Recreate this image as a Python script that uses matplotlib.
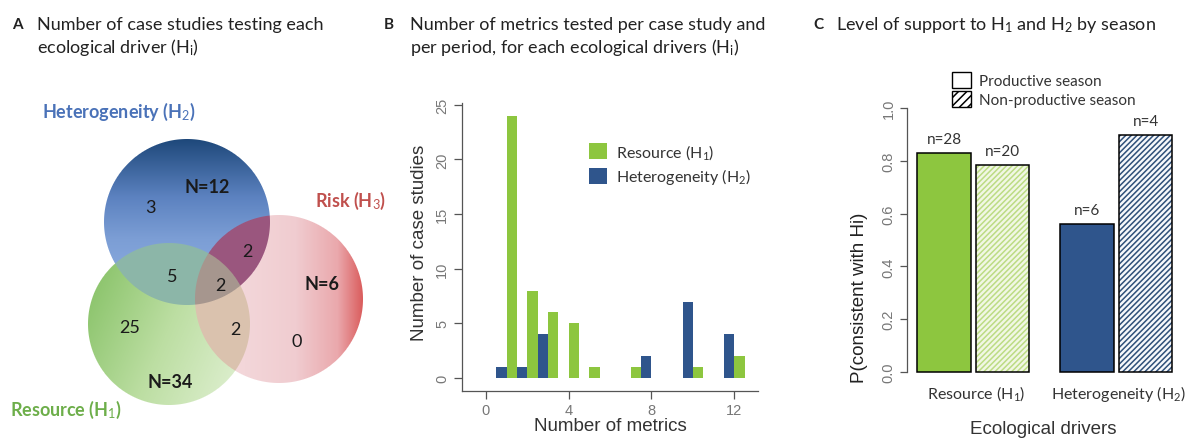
import numpy as np
import matplotlib.pyplot as plt
from matplotlib.patches import Patch

plt.rcParams['font.family'] = ['Lato', 'DejaVu Sans']
plt.rcParams['mathtext.fontset'] = 'custom'
plt.rcParams['mathtext.rm'] = 'Lato'
plt.rcParams['mathtext.it'] = 'Lato:italic'
plt.rcParams['mathtext.bf'] = 'Lato:bold'
plt.rcParams['hatch.linewidth'] = 1.1

# ---- data ----
# panel A: case studies per driver (Venn regions)
venn_totals = {'H1': 34, 'H2': 12, 'H3': 6}
venn_counts = {'H2': 3, 'H1H2': 5, 'H2H3': 2, 'H1H2H3': 2, 'H1': 25, 'H1H3': 2, 'H3': 0}

# panel B: metrics per case study
metrics = np.arange(1, 13)
resource_n = [24, 8, 6, 5, 1, 0, 1, 0, 0, 1, 0, 2]
hetero_n = [1, 1, 4, 0, 0, 0, 0, 2, 0, 7, 0, 4]

# panel C: support by season
drivers = ['Resource (H$_1$)', 'Heterogeneity (H$_2$)']
p_productive = [0.83, 0.56]
p_nonproductive = [0.785, 0.90]
n_productive = [28, 6]
n_nonproductive = [20, 4]

GREEN = '#8dc63f'
BLUE = '#2f558c'
W, H = 1186, 439
fig = plt.figure(figsize=(W / 100, H / 100), dpi=100)


def px_axes(left, top, right, bottom):
    return fig.add_axes([left / W, 1 - bottom / H, (right - left) / W, (bottom - top) / H])


def ftxt(x, y, s, **kw):
    fig.text(x / W, 1 - y / H, s, va='center', **kw)


# titles
tkw = dict(fontsize=13, color='#222222')
ftxt(12, 25, 'A', fontweight='bold', fontsize=11, color='#222222')
ftxt(37, 25, 'Number of case studies testing each', **tkw)
ftxt(37, 48, r'ecological driver (H$_\mathrm{i}$)', **tkw)
ftxt(384, 25, 'B', fontweight='bold', fontsize=11, color='#222222')
ftxt(410, 25, 'Number of metrics tested per case study and', **tkw)
ftxt(410, 48, r'per period, for each ecological drivers (H$_\mathrm{i}$)', **tkw)
ftxt(813, 25, 'C', fontweight='bold', fontsize=11, color='#222222')
ftxt(836, 25, 'Level of support to H$_1$ and H$_2$ by season', **tkw)

# ---- panel A: Venn diagram ----
ax_a = px_axes(0, 0, 400, 439)
ax_a.set_xlim(0, 400)
ax_a.set_ylim(439, 0)
ax_a.axis('off')

yy, xx = np.mgrid[0:439, 0:400] + 0.5


def disk(cx, cy, r):
    return np.clip(r - np.hypot(xx - cx, yy - cy) + 0.5, 0, 1)


def ramp(t, stops, cols):
    cols = np.array(cols, dtype=float)
    return np.stack([np.interp(t, stops, cols[:, k]) for k in range(3)], axis=-1)


mb = disk(187, 223, 83)
mg = disk(169, 325, 81)
mr = disk(279, 300, 84)

blue_c = ramp(np.clip((yy - 140) / 166, 0, 1), [0, 0.35, 0.6, 1],
              [(30, 72, 122), (92, 130, 192), (124, 158, 213), (146, 178, 228)])
green_c = ramp(np.clip((xx - 88) / 165 * 0.7 + (yy - 244) / 162 * 0.3, 0, 1), [0, 0.5, 1],
               [(128, 190, 95), (188, 222, 162), (230, 243, 218)])
red_c = ramp(np.clip((xx - 195) / 168, 0, 1), [0, 0.6, 0.85, 1],
             [(246, 224, 226), (240, 204, 208), (234, 168, 172), (218, 92, 92)])
white = np.ones_like(blue_c) * 255

regions = [
    ((1 - mb) * (1 - mg) * (1 - mr), white),
    (mb * (1 - mg) * (1 - mr), blue_c),
    (mg * (1 - mb) * (1 - mr), green_c),
    (mr * (1 - mb) * (1 - mg), red_c),
    (mb * mg * (1 - mr), np.array([140, 182, 168.0])),
    (mb * mr * (1 - mg), np.array([154, 86, 126.0])),
    (mg * mr * (1 - mb), np.array([218, 194, 174.0])),
    (mb * mg * mr, np.array([166, 150, 142.0])),
]
img = sum(w[..., None] * c for w, c in regions)
ax_a.imshow(img / 255, extent=(0, 400, 439, 0), interpolation='nearest', zorder=0)

ax_a.text(119, 112, 'Heterogeneity (H$_2$)', color='#4a72b8', fontsize=13, fontweight='bold',
          ha='center', va='center')
ax_a.text(351, 201, 'Risk (H$_3$)', color='#c0504d', fontsize=13, fontweight='bold',
          ha='center', va='center')
ax_a.text(66, 410, 'Resource (H$_1$)', color='#6dae4a', fontsize=13, fontweight='bold',
          ha='center', va='center')

nkw = dict(fontsize=13, ha='center', va='center', color='#1a1a1a')
ax_a.text(207, 188, 'N=%d' % venn_totals['H2'], fontweight='bold', **nkw)
ax_a.text(322, 285, 'N=%d' % venn_totals['H3'], fontweight='bold', **nkw)
ax_a.text(170, 383, 'N=%d' % venn_totals['H1'], fontweight='bold', **nkw)
ax_a.text(150, 208, venn_counts['H2'], **nkw)
ax_a.text(247, 252, venn_counts['H2H3'], **nkw)
ax_a.text(172, 277, venn_counts['H1H2'], **nkw)
ax_a.text(220, 286, venn_counts['H1H2H3'], **nkw)
ax_a.text(130, 328, venn_counts['H1'], **nkw)
ax_a.text(235, 330, venn_counts['H1H3'], **nkw)
ax_a.text(297, 342, venn_counts['H3'], **nkw)

# ---- panel B: histogram of metrics ----
ax_b = px_axes(461.7, 103.6, 758.3, 391.7)
ax_b.bar(metrics - 0.25, hetero_n, width=0.5, color=BLUE, label='Heterogeneity (H$_2$)')
ax_b.bar(metrics + 0.25, resource_n, width=0.5, color=GREEN, label='Resource (H$_1$)')
ax_b.set_xlim(-1.17, 13.16)
ax_b.set_ylim(-1.16, 25.2)
ax_b.set_xticks([0, 4, 8, 12])
ax_b.set_yticks([0, 5, 10, 15, 20, 25])
for s in ['top', 'right']:
    ax_b.spines[s].set_visible(False)
for s in ['left', 'bottom']:
    ax_b.spines[s].set_color('#555555')
    ax_b.spines[s].set_linewidth(0.9)
ax_b.tick_params(direction='out', length=5.5, width=0.9, color='#555555',
                 labelcolor='#777777', labelsize=10.5)
for lab in ax_b.get_yticklabels():
    lab.set_family('Liberation Sans')
    lab.set_rotation(90)
    lab.set_va('center')
for lab in ax_b.get_xticklabels():
    lab.set_family('Liberation Sans')
ax_b.set_xlabel('Number of metrics', fontsize=13.5, family='Liberation Sans', color='#333333')
ax_b.xaxis.set_label_coords(0.5, (391.7 - 427) / 288.1)
ax_b.xaxis.label.set_va('center')
ax_b.set_ylabel('Number of case studies', fontsize=13.5, family='Liberation Sans', color='#333333')
ax_b.yaxis.set_label_coords((420 - 461.7) / 296.6, (391.7 - 242.5) / 288.1)
ax_b.yaxis.label.set_va('center')
hb, lb = ax_b.get_legend_handles_labels()
ax_b.legend(hb[::-1], lb[::-1], loc='upper left', bbox_to_anchor=(581 / W, 1 - 135 / H),
            bbox_transform=fig.transFigure, frameon=False, fontsize=11.5, borderpad=0,
            handlelength=1.1, handleheight=1.1, handletextpad=0.6, labelspacing=0.35,
            labelcolor='#333333')

# ---- panel C: support by season ----
ax_c = px_axes(907.3, 93.5, 1186, 383.2)
cols = [GREEN, BLUE]
hatch_bg = ['#f1f7e4', '#f6f8fb']
hatch_fg = ['#bcdc84', '#2f5079']
gap_in, group_step = 1.1, 2.68
for g in range(len(drivers)):
    x0 = g * group_step + 0.5
    x1 = x0 + gap_in
    ax_c.bar(x0, p_productive[g], width=1, color=cols[g], edgecolor='black', linewidth=1.1)
    ax_c.bar(x1, p_nonproductive[g], width=1, color=hatch_bg[g], edgecolor=hatch_fg[g],
             hatch='//////', linewidth=0)
    ax_c.bar(x1, p_nonproductive[g], width=1, fill=False, edgecolor='black', linewidth=1.1)
    ax_c.annotate('n=%d' % n_productive[g], (x0, p_productive[g]), xytext=(0, 5),
                  textcoords='offset points', ha='center', va='bottom', fontsize=11, color='#333333')
    ax_c.annotate('n=%d' % n_nonproductive[g], (x1, p_nonproductive[g]), xytext=(0, 5),
                  textcoords='offset points', ha='center', va='bottom', fontsize=11, color='#333333',
                  annotation_clip=False)
ax_c.set_xlim(-0.19, 5.04)
ax_c.set_ylim(-0.04, 1.06)
ax_c.set_xticks([g * group_step + (0.5 + gap_in / 2) + 0.05 for g in range(len(drivers))])
ax_c.set_xticklabels(drivers, fontsize=11.5, color='#333333')
ax_c.set_yticks(np.arange(0, 1.01, 0.2))
ax_c.set_yticklabels(['%.1f' % v for v in np.arange(0, 1.01, 0.2)], rotation=90, va='center',
                     family='Liberation Sans')
for s in ['top', 'right', 'bottom']:
    ax_c.spines[s].set_visible(False)
ax_c.spines['left'].set_bounds(0, 1)
ax_c.spines['left'].set_color('#555555')
ax_c.spines['left'].set_linewidth(0.9)
ax_c.tick_params(axis='y', direction='out', length=5, width=0.9, color='#555555',
                 labelcolor='#777777', labelsize=10.5)
ax_c.tick_params(axis='x', length=0, pad=0.5)
ax_c.set_xlabel('Ecological drivers', fontsize=13.5, family='Liberation Sans', color='#333333')
ax_c.xaxis.set_label_coords((1043 - 907.3) / 278.7, (383.2 - 430) / 289.7)
ax_c.xaxis.label.set_va('center')
ax_c.set_ylabel('P(consistent with Hi)', fontsize=13.5, family='Liberation Sans', color='#222222')
ax_c.yaxis.set_label_coords((860 - 907.3) / 278.7, (383.2 - 297.5) / 289.7)
ax_c.yaxis.label.set_va('center')
leg_handles = [Patch(facecolor='white', edgecolor='black', linewidth=1),
               Patch(facecolor='white', edgecolor='black', linewidth=1, hatch='////')]
ax_c.legend(leg_handles, ['Productive season', 'Non-productive season'], loc='upper left',
            bbox_to_anchor=(944 / W, 1 - 65 / H), bbox_transform=fig.transFigure, frameon=False,
            fontsize=11, borderpad=0, handlelength=1.25, handleheight=1.25, handletextpad=0.55,
            labelspacing=0.2, labelcolor='#333333')

fig.savefig('out.png', dpi=100)
